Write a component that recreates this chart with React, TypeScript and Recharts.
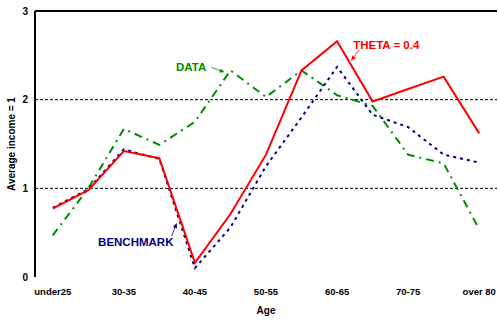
import React from 'react';
import { LineChart, Line, XAxis, YAxis, ReferenceLine, ReferenceDot } from 'recharts';

const categories = ['under25', '25-30', '30-35', '35-40', '40-45', '45-50', '50-55', '55-60', '60-65', '65-70', '70-75', '75-80', 'over 80'];
const thetaValues = [0.77, 0.98, 1.42, 1.34, 0.16, 0.71, 1.38, 2.33, 2.66, 1.98, 2.12, 2.26, 1.62];
const dataValues = [0.47, 1.0, 1.67, 1.49, 1.75, 2.33, 2.03, 2.33, 2.05, 1.93, 1.38, 1.28, 0.54];
const benchmarkValues = [0.78, 0.99, 1.44, 1.33, 0.1, 0.56, 1.25, 1.8, 2.37, 1.83, 1.69, 1.38, 1.29];
const labelTicks = [0, 2, 4, 6, 8, 10, 12];
const yTicks = [0, 1, 2, 3];

const rows = categories.map((c, i) => ({
  i,
  cat: c,
  theta: thetaValues[i],
  data: dataValues[i],
  benchmark: benchmarkValues[i],
}));
const boundaryTicks = [...categories.map((_, i) => i - 0.5), categories.length - 0.5];

const RED = '#ff0000';
const GREEN = '#008a00';
const NAVY = '#000080';
const FONT = '"Liberation Sans", Arial, sans-serif';

const makeArrow = (color: string) => (props: any) => {
  const { x1, y1, x2, y2 } = props;
  if ([x1, y1, x2, y2].some((v) => typeof v !== 'number' || isNaN(v))) return null;
  const ang = Math.atan2(y2 - y1, x2 - x1);
  const L = 5;
  const W = 2.2;
  const bx = x2 - L * Math.cos(ang);
  const by = y2 - L * Math.sin(ang);
  const p1 = `${bx + W * Math.sin(ang)},${by - W * Math.cos(ang)}`;
  const p2 = `${bx - W * Math.sin(ang)},${by + W * Math.cos(ang)}`;
  return (
    <g>
      <line x1={x1} y1={y1} x2={bx} y2={by} stroke={color} strokeWidth={0.8} />
      <polygon points={`${x2},${y2} ${p1} ${p2}`} fill={color} />
    </g>
  );
};

const makeText = (text: string, color: string) => (props: any) => {
  const { cx, cy } = props;
  return (
    <text x={cx} y={cy} fill={color} fontFamily={FONT} fontWeight="bold" fontSize={11.5} textAnchor="middle" dominantBaseline="central">
      {text}
    </text>
  );
};

export default function App() {
  return (
    <div style={{ position: 'absolute', left: 0, top: 0 }}>
      <LineChart width={498} height={320} data={rows} margin={{ top: 11, right: 1, bottom: 0, left: 0 }}>
        <XAxis
          xAxisId={0}
          dataKey="i"
          type="number"
          domain={[-0.5, 12.5]}
          ticks={boundaryTicks}
          tick={false}
          tickSize={3}
          height={0}
          axisLine={{ stroke: '#000', strokeWidth: 2 }}
          tickLine={{ stroke: '#000', strokeWidth: 1 }}
        />
        <XAxis
          xAxisId={1}
          dataKey="i"
          type="number"
          domain={[-0.5, 12.5]}
          ticks={labelTicks}
          tickFormatter={(v: number) => categories[v]}
          axisLine={false}
          tickLine={false}
          tickSize={0}
          tickMargin={11}
          height={43}
          interval={0}
          tick={{ fill: '#000', fontSize: 9.5, fontWeight: 'bold', fontFamily: FONT }}
          label={{ value: 'Age', position: 'insideBottom', offset: 6, fill: '#000', fontSize: 10, fontWeight: 'bold', fontFamily: FONT }}
        />
        <YAxis
          domain={[0, 3]}
          ticks={yTicks}
          width={35}
          tickSize={0}
          tickMargin={7}
          axisLine={{ stroke: '#000', strokeWidth: 2 }}
          tickLine={false}
          tick={{ fill: '#000', fontSize: 10, fontWeight: 'bold', fontFamily: FONT }}
          label={{ value: 'Average income = 1', angle: -90, position: 'center', dx: -6, fill: '#000', fontSize: 10, fontWeight: 'bold', fontFamily: FONT }}
        />
        <ReferenceLine xAxisId={0} y={1} stroke="#000" strokeWidth={1} strokeDasharray="3 2" />
        <ReferenceLine xAxisId={0} y={2} stroke="#000" strokeWidth={1} strokeDasharray="3 2" />
        <ReferenceLine xAxisId={0} y={3} stroke="#000" strokeWidth={2} />
        <Line xAxisId={0} type="linear" dataKey="data" stroke={GREEN} strokeWidth={2} strokeDasharray="8 5 2 5" dot={false} isAnimationActive={false} />
        <Line xAxisId={0} type="linear" dataKey="benchmark" stroke={NAVY} strokeWidth={2} strokeDasharray="3 4" dot={false} isAnimationActive={false} />
        <Line xAxisId={0} type="linear" dataKey="theta" stroke={RED} strokeWidth={2} dot={false} isAnimationActive={false} />
        <ReferenceDot xAxisId={0} x={3.894} y={2.368} r={0} shape={makeText('DATA', GREEN)} />
        <ReferenceDot xAxisId={0} x={9.383} y={2.616} r={0} shape={makeText('THETA = 0.4', RED)} />
        <ReferenceDot xAxisId={0} x={2.336} y={0.398} r={0} shape={makeText('BENCHMARK', NAVY)} />
        <ReferenceLine xAxisId={0} segment={[{ x: 4.461, y: 2.365 }, { x: 4.835, y: 2.309 }]} shape={makeArrow(GREEN)} />
        <ReferenceLine xAxisId={0} segment={[{ x: 8.625, y: 2.56 }, { x: 8.392, y: 2.439 }]} shape={makeArrow(RED)} />
        <ReferenceLine xAxisId={0} segment={[{ x: 3.347, y: 0.462 }, { x: 3.487, y: 0.609 }]} shape={makeArrow(NAVY)} />
      </LineChart>
    </div>
  );
}
